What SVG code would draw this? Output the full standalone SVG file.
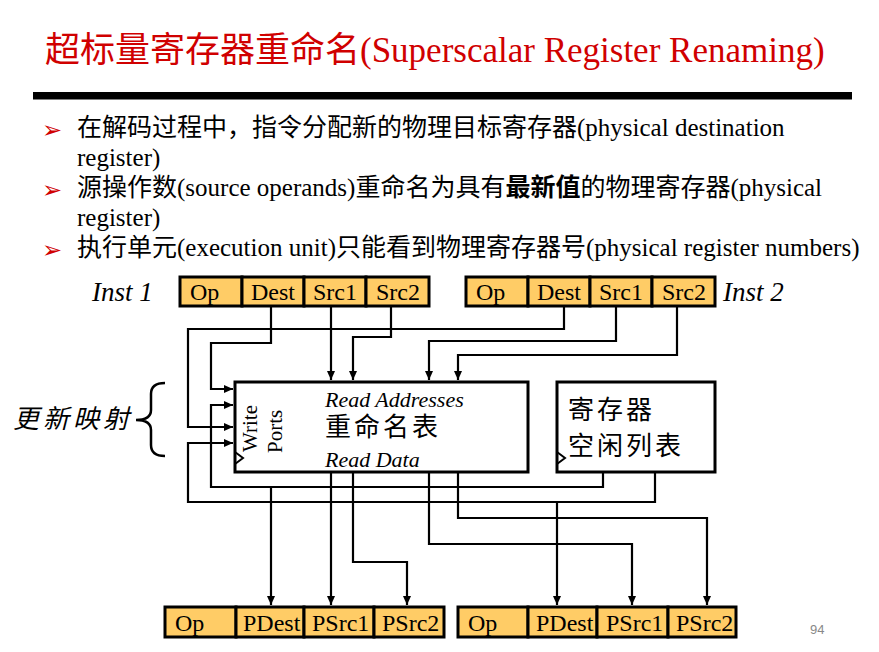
<svg xmlns="http://www.w3.org/2000/svg" width="879" height="652" viewBox="0 0 879 652">
<style>
.t{font-family:"Liberation Serif","Noto Sans CJK SC",serif;fill:#000}
.cell{fill:#FFCC66;stroke:#000;stroke-width:3}
.box{fill:#fff;stroke:#000;stroke-width:3}
.w{fill:none;stroke:#000;stroke-width:2.2}
.ct{font-family:"Liberation Serif","Noto Sans CJK SC",serif;font-size:24px;fill:#000}
.bul{font-family:"DejaVu Sans",sans-serif;font-size:24px;fill:#d00000}
</style>
<defs>
<marker id="ah" markerUnits="userSpaceOnUse" markerWidth="10" markerHeight="10" refX="9" refY="5" orient="auto">
<path d="M0,1 L9,5 L0,9 z" fill="#000"/>
</marker>
</defs>
<rect width="879" height="652" fill="#fff"/>
<g id="title">
<text x="45" y="62" font-family="Liberation Serif,'Noto Sans CJK SC',serif" font-size="35" fill="#d00000">超标量寄存器重命名(Superscalar Register Renaming)</text>
<rect x="33" y="92" width="819" height="7.5" fill="#000"/>
</g>
<g id="bullets" font-size="25">
<text class="bul" x="42" y="138">➢</text>
<text class="t" x="77" y="136">在解码过程中，指令分配新的物理目标寄存器(physical destination</text>
<text class="t" x="77" y="166">register)</text>
<text class="bul" x="42" y="198">➢</text>
<text class="t" x="77" y="196">源操作数(source operands)重命名为具有<tspan font-weight="bold">最新值</tspan>的物理寄存器(physical</text>
<text class="t" x="77" y="226">register)</text>
<text class="bul" x="42" y="258">➢</text>
<text class="t" x="77" y="256">执行单元(execution unit)只能看到物理寄存器号(physical register numbers)</text>
</g>
<g id="inst1">
<text class="t" x="92" y="301" font-size="27" font-style="italic">Inst 1</text>
<rect class="cell" x="180" y="277" width="62" height="29"/>
<rect class="cell" x="242" y="277" width="62" height="29"/>
<rect class="cell" x="304" y="277" width="62" height="29"/>
<rect class="cell" x="366" y="277" width="63" height="29"/>
<text class="ct" x="190" y="300">Op</text>
<text class="ct" x="251" y="300">Dest</text>
<text class="ct" x="313" y="300">Src1</text>
<text class="ct" x="376" y="300">Src2</text>
</g>
<g id="inst2">
<rect class="cell" x="466" y="277" width="62" height="29"/>
<rect class="cell" x="528" y="277" width="62" height="29"/>
<rect class="cell" x="590" y="277" width="62" height="29"/>
<rect class="cell" x="652" y="277" width="63" height="29"/>
<text class="ct" x="476" y="300">Op</text>
<text class="ct" x="537" y="300">Dest</text>
<text class="ct" x="599" y="300">Src1</text>
<text class="ct" x="662" y="300">Src2</text>
<text class="t" x="723" y="301" font-size="27" font-style="italic">Inst 2</text>
</g>
<g id="update-map">
<text class="t" x="13" y="428" font-size="26" font-style="italic" letter-spacing="4">更新映射</text>
<path d="M165,383 Q151,383 151,394 L151,410 Q151,420 136,420 Q151,420 151,430 L151,445 Q151,456 165,456" fill="none" stroke="#000" stroke-width="2.5"/>
</g>
<g id="rename-table">
<rect class="box" x="235" y="382" width="293" height="90"/>
<polyline points="235,452 243,458 235,464" fill="none" stroke="#000" stroke-width="2"/>
<text class="t" font-size="21" transform="translate(257,452) rotate(-90)">Write</text>
<text class="t" font-size="21" transform="translate(282,453) rotate(-90)">Ports</text>
<text class="t" x="325" y="407" font-size="22" font-style="italic">Read Addresses</text>
<text class="t" x="325" y="436" font-size="26" letter-spacing="3">重命名表</text>
<text class="t" x="325" y="467" font-size="22" font-style="italic">Read Data</text>
</g>
<g id="free-list">
<rect class="box" x="557" y="382" width="158" height="90"/>
<polyline points="557,452 565,458 557,464" fill="none" stroke="#000" stroke-width="2"/>
<text class="t" x="568" y="419" font-size="26" letter-spacing="3">寄存器</text>
<text class="t" x="568" y="455" font-size="26" letter-spacing="3">空闲列表</text>
</g>
<g id="out1">
<rect class="cell" x="165" y="607" width="71" height="30"/>
<rect class="cell" x="236" y="607" width="68" height="30"/>
<rect class="cell" x="304" y="607" width="70" height="30"/>
<rect class="cell" x="374" y="607" width="70" height="30"/>
<text class="ct" x="175" y="631">Op</text>
<text class="ct" x="243" y="631">PDest</text>
<text class="ct" x="312" y="631">PSrc1</text>
<text class="ct" x="382" y="631">PSrc2</text>
</g>
<g id="out2">
<rect class="cell" x="458" y="607" width="70" height="30"/>
<rect class="cell" x="528" y="607" width="69" height="30"/>
<rect class="cell" x="597" y="607" width="71" height="30"/>
<rect class="cell" x="668" y="607" width="68" height="30"/>
<text class="ct" x="468" y="631">Op</text>
<text class="ct" x="536" y="631">PDest</text>
<text class="ct" x="606" y="631">PSrc1</text>
<text class="ct" x="676" y="631">PSrc2</text>
</g>
<g id="connectors">
<path class="w" d="M271,306 V343 H211 V389 H233" marker-end="url(#ah)"/>
<path class="w" d="M564,306 V329 H188 V427 H233" marker-end="url(#ah)"/>
<path class="w" d="M331,306 V380" marker-end="url(#ah)"/>
<path class="w" d="M391,306 V337 H353 V380" marker-end="url(#ah)"/>
<path class="w" d="M616,306 V341 H429 V380" marker-end="url(#ah)"/>
<path class="w" d="M677,306 V355 H458 V380" marker-end="url(#ah)"/>
<path class="w" d="M603,472 V487 H211 V405 H233" marker-end="url(#ah)"/>
<path class="w" d="M655,472 V502 H188 V443 H233" marker-end="url(#ah)"/>
<path class="w" d="M271,487 V605" marker-end="url(#ah)"/>
<path class="w" d="M557,502 V605" marker-end="url(#ah)"/>
<path class="w" d="M331,472 V605" marker-end="url(#ah)"/>
<path class="w" d="M353,472 V562 H407 V605" marker-end="url(#ah)"/>
<path class="w" d="M429,472 V544 H632 V605" marker-end="url(#ah)"/>
<path class="w" d="M458,472 V518 H707 V605" marker-end="url(#ah)"/>
</g>
<text x="810" y="634" font-family="Liberation Sans,sans-serif" font-size="13" fill="#888">94</text>
</svg>
